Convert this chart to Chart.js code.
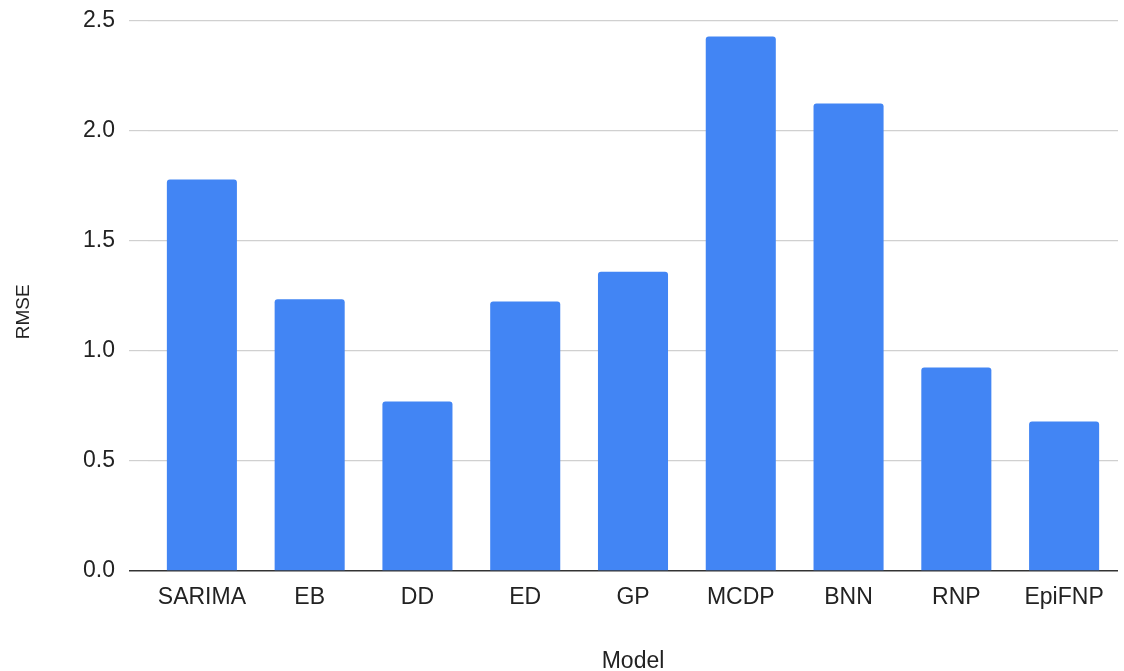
<!DOCTYPE html>
<html>
<head>
<meta charset="utf-8">
<script src="https://cdn.jsdelivr.net/npm/chart.js@4"></script>
<style>
  html, body { margin: 0; padding: 0; background: #fff; }
  #wrap { width: 1124px; height: 671px; }
</style>
</head>
<body>
<div id="wrap"><canvas id="rmseChart" width="1124" height="671"></canvas></div>
<script>
// RMSE per model
const models = ['SARIMA', 'EB', 'DD', 'ED', 'GP', 'MCDP', 'BNN', 'RNP', 'EpiFNP'];
const rmse = [1.78, 1.235, 0.77, 1.225, 1.36, 2.43, 2.125, 0.925, 0.68];
const yTicks = [0, 0.5, 1.0, 1.5, 2.0, 2.5];

const FONT = 'Liberation Sans, Arial, sans-serif';
const TEXT = '#222';

new Chart(document.getElementById('rmseChart'), {
    type: 'bar',
    data: {
        labels: models,
        datasets: [{
            label: 'RMSE',
            data: rmse,
            backgroundColor: '#4285f4',
            borderRadius: 3,
            borderSkipped: 'bottom',
            barPercentage: 0.65,
            categoryPercentage: 1
        }]
    },
    options: {
        responsive: false,
        animation: false,
        layout: { padding: { top: 21, right: 6, bottom: 0, left: 0 } },
        plugins: { legend: { display: false }, tooltip: { enabled: false } },
        scales: {
            x: {
                grid: { display: false, drawTicks: false },
                border: { display: false },
                ticks: { color: TEXT, font: { family: FONT, size: 23 }, padding: 13 },
                title: { display: true, text: 'Model', color: TEXT, font: { family: FONT, size: 23, lineHeight: 1 }, padding: { top: 0, bottom: -2 } },
                afterFit: s => { s.height = 100; }
            },
            y: {
                min: 0,
                max: 2.5,
                afterBuildTicks: s => { s.ticks = yTicks.map(v => ({ value: v })); },
                grid: {
                    color: c => (c.tick && c.tick.value === 0) ? '#333' : '#d0d0d0',
                    lineWidth: c => (c.tick && c.tick.value === 0) ? 1.5 : 1.2,
                    tickLength: 19
                },
                border: { display: false },
                ticks: {
                    color: TEXT,
                    font: { family: FONT, size: 23 },
                    padding: 14,
                    callback: v => v.toFixed(1)
                },
                // trailing spaces push the rotated label a little below the axis middle
                title: { display: true, text: 'RMSE      ', color: TEXT, font: { family: FONT, size: 19, lineHeight: 1 }, padding: { top: 14, bottom: 0 } },
                afterFit: s => { s.width = 148; s.paddingTop = 0; s.paddingBottom = 0; }
            }
        }
    }
});
</script>
</body>
</html>
